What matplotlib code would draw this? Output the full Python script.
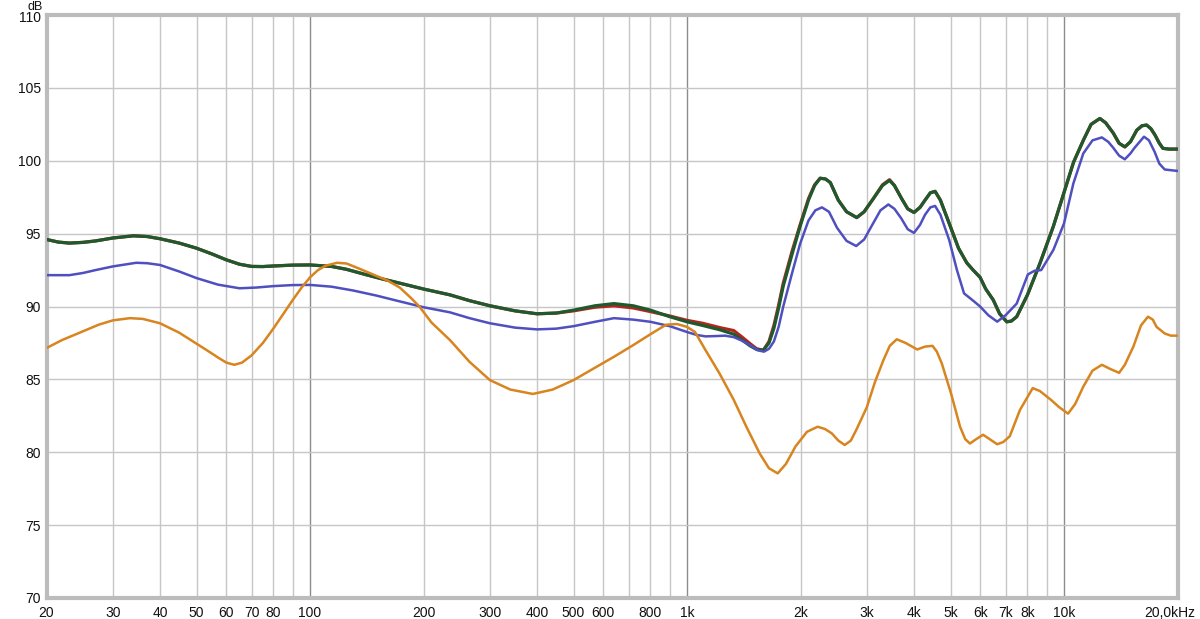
import matplotlib
matplotlib.use("Agg")
import matplotlib.pyplot as plt
import matplotlib.transforms as mtransforms
from matplotlib.ticker import FixedLocator, NullLocator

plt.rcParams['font.family'] = ['Liberation Sans', 'DejaVu Sans']

# ---- data (frequency in Hz, level in dB) ----
green_f = [20, 21.5, 23, 25, 27, 30, 34, 37, 40, 45, 50, 55, 60, 65, 70, 75, 80, 90, 100,
           114, 125, 140, 155, 173, 200, 235, 265, 300, 350, 400, 450, 500, 570, 640, 720,
           800, 900, 1000, 1100, 1223, 1330, 1400, 1470, 1530, 1594, 1650, 1700, 1750,
           1800, 1900, 1995, 2100, 2180, 2255, 2330, 2400, 2519, 2650, 2820, 2950, 3120,
           3300, 3445, 3550, 3710, 3850, 4000, 4150, 4280, 4420, 4550, 4700, 4960, 5250,
           5520, 5740, 5990, 6200, 6490, 6750, 7050, 7250, 7490, 8000, 8630, 9370, 10050,
           10600, 11250, 11800, 12450, 12900, 13510, 14000, 14500, 15000, 15600, 16100,
           16560, 17000, 17430, 17900, 18300, 19000, 20000]
green_db = [94.6, 94.42, 94.35, 94.4, 94.5, 94.7, 94.85, 94.8, 94.65, 94.35, 94.0, 93.6,
            93.2, 92.9, 92.75, 92.74, 92.78, 92.84, 92.85, 92.75, 92.55, 92.2, 91.9, 91.6,
            91.2, 90.8, 90.4, 90.05, 89.7, 89.5, 89.55, 89.75, 90.05, 90.2, 90.05, 89.75,
            89.3, 88.95, 88.7, 88.4, 88.1, 87.7, 87.3, 87.05, 87.0, 87.5, 88.5, 89.9,
            91.4, 93.6, 95.5, 97.3, 98.3, 98.8, 98.75, 98.5, 97.3, 96.5, 96.1, 96.5, 97.4,
            98.3, 98.65, 98.3, 97.4, 96.7, 96.45, 96.8, 97.3, 97.8, 97.9, 97.3, 95.7, 94.0,
            93.0, 92.5, 92.0, 91.2, 90.45, 89.5, 88.95, 89.0, 89.3, 90.8, 92.95, 95.5,
            98.0, 99.9, 101.4, 102.5, 102.9, 102.6, 101.9, 101.2, 100.95, 101.3, 102.1,
            102.4, 102.45, 102.2, 101.77, 101.2, 100.85, 100.8, 100.8]

red_f = green_f
red_db = [94.6, 94.42, 94.35, 94.4, 94.5, 94.7, 94.85, 94.8, 94.65, 94.35, 94.0, 93.6,
          93.2, 92.9, 92.75, 92.74, 92.78, 92.84, 92.85, 92.75, 92.55, 92.2, 91.9, 91.6,
          91.2, 90.8, 90.4, 90.05, 89.7, 89.5, 89.55, 89.7, 89.95, 90.05, 89.9, 89.65,
          89.35, 89.05, 88.85, 88.55, 88.35, 87.9, 87.45, 87.1, 87.0, 87.6, 88.7, 90.1,
          91.6, 93.8, 95.6, 97.4, 98.35, 98.8, 98.75, 98.5, 97.3, 96.5, 96.1, 96.5, 97.4,
          98.35, 98.7, 98.3, 97.4, 96.7, 96.45, 96.8, 97.3, 97.8, 97.9, 97.3, 95.7, 94.0,
          93.0, 92.5, 92.0, 91.2, 90.45, 89.5, 88.95, 89.0, 89.3, 90.8, 92.95, 95.5,
          98.0, 99.9, 101.4, 102.5, 102.9, 102.6, 101.9, 101.2, 100.95, 101.3, 102.1,
          102.4, 102.45, 102.2, 101.77, 101.2, 100.85, 100.8, 100.8]

blue_f = [20, 23, 25, 27, 30, 34.6, 37, 40, 45, 50, 57, 65, 72, 80, 90, 100, 114, 130,
          150, 173, 200, 235, 265, 300, 350, 400, 450, 500, 570, 640, 720, 800, 900, 1000,
          1060, 1120, 1190, 1260, 1330, 1400, 1470, 1540, 1600, 1650, 1700, 1750, 1800,
          1900, 1995, 2100, 2190, 2280, 2380, 2500, 2650, 2810, 2950, 3100, 3260, 3420,
          3550, 3700, 3850, 4000, 4150, 4280, 4420, 4550, 4700, 4960, 5200, 5430, 5740,
          5990, 6300, 6650, 7000, 7490, 8020, 8350, 8700, 9370, 10000, 10590, 11250,
          11900, 12600, 13100, 13500, 14000, 14500, 15000, 15400, 16300, 16800, 17400,
          17900, 18500, 20000]
blue_db = [92.15, 92.15, 92.3, 92.5, 92.75, 93.0, 92.97, 92.85, 92.4, 91.95, 91.5, 91.25,
           91.3, 91.4, 91.47, 91.48, 91.36, 91.1, 90.75, 90.35, 89.95, 89.6, 89.2, 88.85,
           88.55, 88.43, 88.48, 88.65, 88.95, 89.2, 89.1, 88.95, 88.65, 88.25, 88.05,
           87.95, 87.97, 88.0, 87.9, 87.65, 87.35, 87.0, 86.9, 87.1, 87.6, 88.6, 90.0,
           92.3, 94.3, 95.9, 96.6, 96.8, 96.5, 95.4, 94.5, 94.15, 94.6, 95.6, 96.6, 97.0,
           96.7, 96.05, 95.3, 95.05, 95.6, 96.3, 96.8, 96.9, 96.3, 94.56, 92.5, 90.9,
           90.4, 90.0, 89.4, 88.96, 89.4, 90.2, 92.2, 92.45, 92.5, 93.88, 95.7, 98.45,
           100.5, 101.4, 101.6, 101.3, 100.9, 100.35, 100.1, 100.5, 100.9, 101.65, 101.4,
           100.6, 99.8, 99.4, 99.3]

orange_f = [20, 22, 25, 27.5, 30, 33.3, 36, 40, 45, 50, 54, 57, 60, 63, 66, 70, 75, 80,
            85, 90, 95, 100, 105, 110, 118, 125, 135, 150, 160, 173, 185, 195, 210, 235,
            265, 300, 340, 390, 440, 500, 570, 640, 720, 800, 880, 940, 1000, 1050, 1120,
            1220, 1330, 1440, 1560, 1650, 1740, 1830, 1940, 2080, 2220, 2320, 2420, 2520,
            2620, 2720, 2820, 3000, 3150, 3316, 3450, 3600, 3800, 4080, 4280, 4480, 4600,
            4740, 5020, 5300, 5470, 5630, 5850, 6100, 6350, 6650, 6900, 7180, 7640, 8260,
            8630, 9230, 9700, 10250, 10700, 11250, 11900, 12600, 13300, 14000, 14500,
            15270, 16000, 16700, 17200, 17600, 18500, 19200, 20000]
orange_db = [87.15, 87.7, 88.3, 88.75, 89.05, 89.2, 89.15, 88.85, 88.2, 87.45, 86.9, 86.5,
             86.15, 86.0, 86.15, 86.65, 87.5, 88.5, 89.5, 90.45, 91.3, 92.0, 92.5, 92.8,
             93.0, 92.95, 92.6, 92.1, 91.8, 91.3, 90.6, 90.0, 88.9, 87.7, 86.2, 84.95,
             84.3, 84.0, 84.3, 84.95, 85.8, 86.55, 87.35, 88.1, 88.75, 88.8, 88.6, 88.25,
             87.0, 85.4, 83.6, 81.7, 79.9, 78.9, 78.55, 79.2, 80.4, 81.4, 81.75, 81.6,
             81.3, 80.8, 80.5, 80.8, 81.6, 83.1, 84.8, 86.3, 87.3, 87.75, 87.5, 87.05,
             87.25, 87.3, 86.9, 86.1, 84.0, 81.75, 80.9, 80.6, 80.9, 81.2, 80.9, 80.55,
             80.7, 81.1, 82.9, 84.4, 84.2, 83.6, 83.1, 82.65, 83.3, 84.5, 85.6, 86.0, 85.7,
             85.45, 86.0, 87.24, 88.7, 89.3, 89.1, 88.6, 88.15, 88.0, 88.0]

x_ticks = [20, 30, 40, 50, 60, 70, 80, 100, 200, 300, 400, 500, 600, 800, 1000,
           2000, 3000, 4000, 5000, 6000, 7000, 8000, 10000, 20000]
x_tick_labels = ['20', '30', '40', '50', '60', '70', '80', '100', '200', '300', '400',
                 '500', '600', '800', '1k', '2k', '3k', '4k', '5k', '6k', '7k', '8k',
                 '10k', '20,0kHz']
minor_grid = [30, 40, 50, 60, 70, 80, 90, 200, 300, 400, 500, 600, 700, 800, 900,
              2000, 3000, 4000, 5000, 6000, 7000, 8000, 9000]
decade_grid = [100, 1000, 10000]
y_ticks = [70, 75, 80, 85, 90, 95, 100, 105, 110]

# ---- figure ----
fig = plt.figure(figsize=(12.0, 6.19), dpi=100)
ax = fig.add_axes([46.5 / 1200, 1 - 598 / 619, (1177.5 - 46.5) / 1200, (598 - 15) / 619])
ax.set_xscale('log')
ax.set_xlim(20, 20000)
ax.set_ylim(70, 110)

for f in minor_grid:
    ax.axvline(f, color='#c6c6c6', lw=1.0, zorder=1)
for f in decade_grid:
    ax.axvline(f, color='#8c8c8c', lw=1.0, zorder=1)
for y in y_ticks[1:-1]:
    ax.axhline(y, color='#c6c6c6', lw=1.0, zorder=1)

kw = dict(solid_capstyle='round', solid_joinstyle='round')
ax.plot(red_f, red_db, color='#b3261e', lw=2.3, zorder=3, **kw)
ax.plot(green_f, green_db, color='#1f5a2f', lw=2.3, zorder=4, **kw)
ax.plot(blue_f, blue_db, color='#4f4fc0', lw=1.8, zorder=5, **kw)
ax.plot(orange_f, orange_db, color='#d8841f', lw=1.8, zorder=6, **kw)

ax.xaxis.set_major_locator(FixedLocator(x_ticks))
ax.xaxis.set_minor_locator(NullLocator())
ax.set_xticklabels(x_tick_labels)
ax.set_yticks(y_ticks)
ax.set_yticklabels([str(v) for v in y_ticks])
ax.tick_params(axis='both', length=0, labelsize=10, colors='#111111')
ax.tick_params(axis='x', pad=6)
ax.tick_params(axis='y', pad=4)

# shift the last x label left so it stays inside the figure
last = ax.get_xticklabels()[-1]
last.set_transform(last.get_transform() +
                   mtransforms.ScaledTranslation(-8 / 100, 0, fig.dpi_scale_trans))
# nudge the top y label down a little to leave room for the unit
top = ax.get_yticklabels()[-1]
top.set_transform(top.get_transform() +
                  mtransforms.ScaledTranslation(0, -1.5 / 100, fig.dpi_scale_trans))

for sp in ax.spines.values():
    sp.set_color('#bcbcbc')
    sp.set_linewidth(3)

fig.text(35 / 1200, 1 - 9.5 / 619, 'dB', ha='center', va='baseline', fontsize=9,
         color='#111111')

fig.savefig('out.png', dpi=100, facecolor='white')
